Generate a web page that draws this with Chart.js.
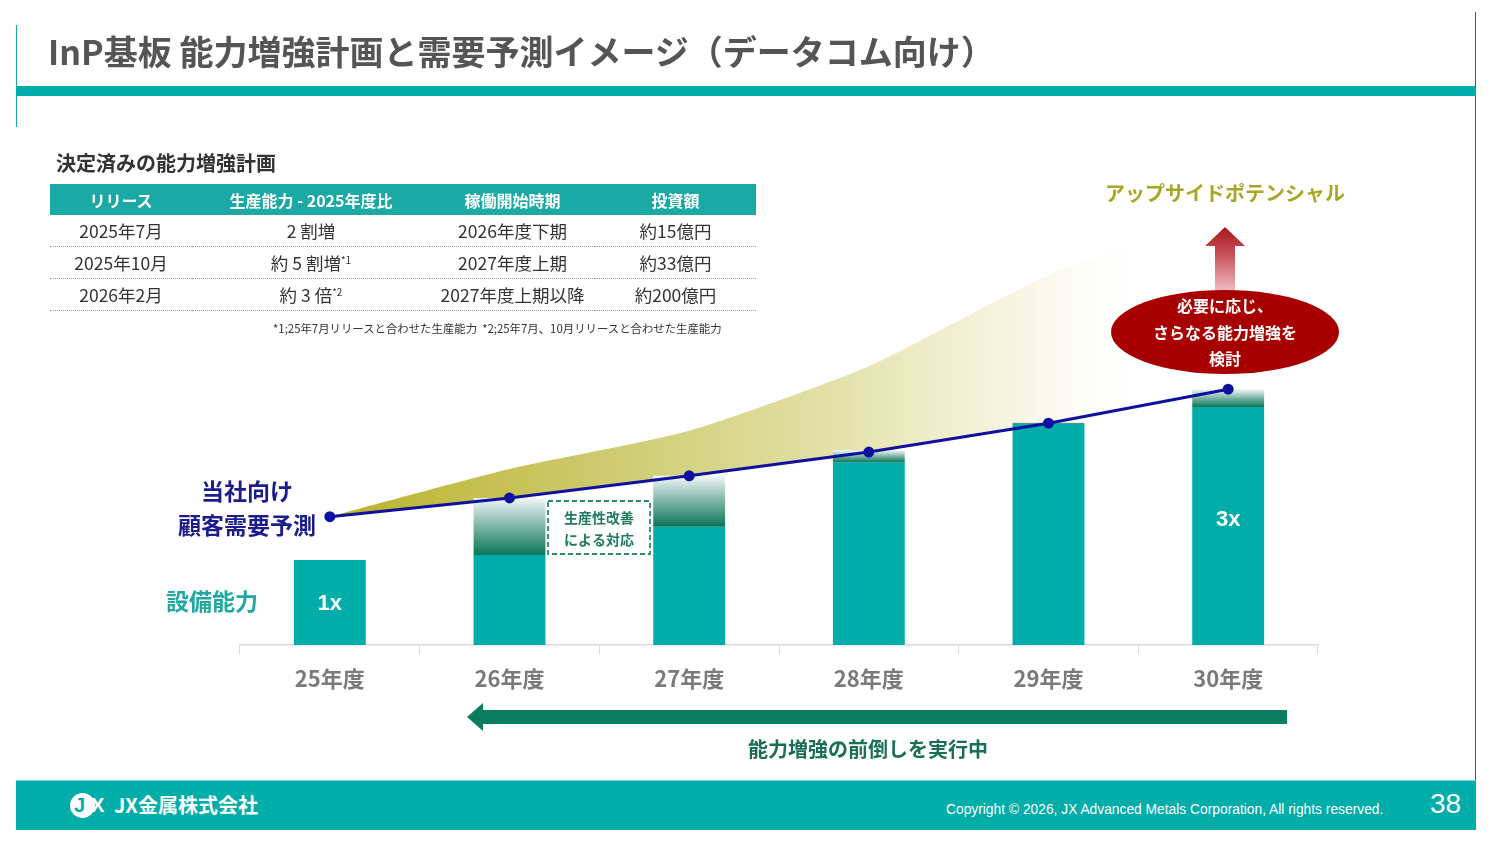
<!DOCTYPE html>
<html lang="ja">
<head>
<meta charset="utf-8">
<title>InP基板 能力増強計画と需要予測イメージ</title>
<script src="https://cdn.jsdelivr.net/npm/chart.js@4.4.1/dist/chart.umd.min.js"></script>
<style>
  html, body { margin: 0; padding: 0; background: #fff; }
  body { font-family: "Noto Sans CJK JP", "Noto Sans", sans-serif; }
  #slide { position: relative; width: 1499px; height: 843px; overflow: hidden; background: #fff; }
  #chart { position: absolute; left: 0; top: 0; }
  .abs { position: absolute; }
  #leftLine { left: 16px; top: 25px; width: 1px; height: 102px; background: #1aa9a4; }
  #rightLine { left: 1475px; top: 12px; width: 1px; height: 770px; background: #555; }
  #title { left: 48px; top: 28px; font-size: 34px; font-weight: 700; color: #555; white-space: nowrap; line-height: 46px; }
  #titleBand { left: 16px; top: 86px; width: 1460px; height: 10px; background: #00ada9; }
  #tableTitle { left: 56px; top: 149px; font-size: 20px; font-weight: 700; color: #333; line-height: 28px; }
  #plan { left: 50px; top: 184px; width: 706px; border-collapse: collapse; }
  #plan th { background: #1aa9a4; color: #fff; font-size: 16px; font-weight: 700; height: 31px; padding: 0; text-align: center; }
  #plan td { font-size: 17.5px; color: #333; height: 31px; padding: 0; text-align: center; border-bottom: 1px dotted #999; }
  #plan sup { font-size: 10px; vertical-align: 6px; }
  #note { left: 273px; top: 320px; font-size: 11.4px; color: #333; white-space: nowrap; }
  #footer { left: 16px; top: 780px; width: 1460px; height: 50px; background: #00ada9; border-top: 1px solid #7fd6d3; box-sizing: border-box; }
  #logoCircle { left: 70px; top: 793px; width: 25px; height: 25px; border-radius: 50%; background: #fff; }
  #logoJ { left: 74px; top: 792px; font: 700 20px "Liberation Sans", sans-serif; color: #00ada9; line-height: 26px; }
  #logoX { left: 91px; top: 792px; font: 700 20px "Liberation Sans", sans-serif; color: #fff; line-height: 26px; }
  #company { left: 114px; top: 792px; font-size: 20px; font-weight: 700; color: #fff; line-height: 26px; white-space: nowrap; }
  #copy { left: 946px; top: 802px; font: 13.8px "Liberation Sans", sans-serif; color: #fff; white-space: nowrap; }
  #page { left: 1430px; top: 788px; font: 28px "Liberation Sans", sans-serif; color: #fff; }
</style>
</head>
<body>
<div id="slide">
  <canvas id="chart" width="1499" height="843"></canvas>
  <div class="abs" id="leftLine"></div>
  <div class="abs" id="rightLine"></div>
  <div class="abs" id="title">InP基板 能力増強計画と需要予測イメージ（データコム向け）</div>
  <div class="abs" id="titleBand"></div>
  <div class="abs" id="tableTitle">決定済みの能力増強計画</div>
  <table class="abs" id="plan">
    <colgroup><col style="width:142px"><col style="width:238px"><col style="width:165px"><col style="width:161px"></colgroup>
    <thead><tr><th>リリース</th><th>生産能力 - 2025年度比</th><th>稼働開始時期</th><th>投資額</th></tr></thead>
    <tbody>
      <tr><td>2025年7月</td><td>2 割増</td><td>2026年度下期</td><td>約15億円</td></tr>
      <tr><td>2025年10月</td><td>約 5 割増<sup>*1</sup></td><td>2027年度上期</td><td>約33億円</td></tr>
      <tr><td>2026年2月</td><td>約 3 倍<sup>*2</sup></td><td>2027年度上期以降</td><td>約200億円</td></tr>
    </tbody>
  </table>
  <div class="abs" id="note">*1;25年7月リリースと合わせた生産能力&nbsp;&nbsp;*2;25年7月、10月リリースと合わせた生産能力</div>
  <div class="abs" id="footer"></div>
  <div class="abs" id="logoCircle"></div>
  <div class="abs" id="logoJ">J</div>
  <div class="abs" id="logoX">X</div>
  <div class="abs" id="company">JX金属株式会社</div>
  <div class="abs" id="copy">Copyright © 2026, JX Advanced Metals Corporation, All rights reserved.</div>
  <div class="abs" id="page">38</div>
</div>
<script>
// 年度ラベル
const years = ['25年度', '26年度', '27年度', '28年度', '29年度', '30年度'];
// 設備能力（25年度=1x）
const capacity = [1.0, 1.06, 1.39, 2.15, 2.6, 2.8];
// 生産性改善による対応（上端）
const improvedTop = [null, 1.73, 1.99, 2.29, 2.62, 3.01];
// 当社向け顧客需要予測
const demand = [1.51, 1.73, 1.99, 2.27, 2.61, 3.01];
// アップサイドポテンシャル（上端）
const upside = [1.51, 2.07, 2.52, 3.28, 4.35, 5.1];

const JP = '"Noto Sans CJK JP", "Noto Sans", sans-serif';
const TEAL = '#00ada8';

const improvement = improvedTop.map((v, i) => v === null ? null : [capacity[i], v]);

// 改善分の縦グラデーション
function capGradient(ctx) {
    const chart = ctx.chart;
    const raw = ctx.raw;
    if (!chart.chartArea || !raw) return '#0d7a58';
    const y = chart.scales.y;
    const top = y.getPixelForValue(raw[1]);
    const bot = y.getPixelForValue(raw[0]);
    const g = chart.ctx.createLinearGradient(0, top, 0, bot);
    g.addColorStop(0, '#f2f8f7');
    g.addColorStop(0.45, '#86bbad');
    g.addColorStop(1, '#0b7656');
    return g;
}

// アップサイド領域の横グラデーション
function upsideGradient(ctx) {
    const chart = ctx.chart;
    if (!chart.chartArea) return 'rgba(200,196,90,0.8)';
    const x = chart.scales.x;
    const g = chart.ctx.createLinearGradient(x.getPixelForValue(0), 0, x.getPixelForValue(4.6), 0);
    g.addColorStop(0, 'rgb(184,180,40)');
    g.addColorStop(0.3, 'rgb(204,200,105)');
    g.addColorStop(0.62, 'rgb(228,226,170)');
    g.addColorStop(0.85, 'rgba(246,245,225,0.8)');
    g.addColorStop(1, 'rgba(255,255,255,0)');
    return g;
}

// 注記類の描画
const notes = {
    id: 'notes',
    afterDatasetsDraw(chart) {
        const c = chart.ctx;
        const x = chart.scales.x;
        const y = chart.scales.y;
        c.save();
        c.textAlign = 'center';
        c.textBaseline = 'middle';

        // 左側ラベル
        c.fillStyle = '#1c1c8c';
        c.font = `700 23px ${JP}`;
        c.fillText('当社向け', 247, 491);
        c.fillText('顧客需要予測', 247, 525);
        c.fillStyle = '#22a8a3';
        c.fillText('設備能力', 212, 601);

        // 棒の中の倍率
        c.fillStyle = '#fff';
        c.font = '700 22px "Liberation Sans", sans-serif';
        c.fillText('1x', x.getPixelForValue(0), y.getPixelForValue(capacity[0] / 2) + 1);
        c.fillText('3x', x.getPixelForValue(5), y.getPixelForValue(capacity[5] / 2) - 6);

        // 生産性改善 点線枠
        c.strokeStyle = '#2c8c72';
        c.lineWidth = 1.8;
        c.setLineDash([5, 3]);
        c.strokeRect(548, 501, 102, 53);
        c.setLineDash([]);
        c.fillStyle = '#1f7a60';
        c.font = `700 14px ${JP}`;
        c.fillText('生産性改善', 599, 518);
        c.fillText('による対応', 599, 540);

        // アップサイドポテンシャル
        c.fillStyle = '#a9a623';
        c.font = `700 20px ${JP}`;
        c.fillText('アップサイドポテンシャル', 1225, 193);

        // 赤い上向き矢印
        const ax = 1225;
        const ag = c.createLinearGradient(0, 227, 0, 295);
        ag.addColorStop(0, '#a81818');
        ag.addColorStop(0.4, '#c8505a');
        ag.addColorStop(1, '#f4c8cc');
        c.fillStyle = ag;
        c.beginPath();
        c.moveTo(ax, 227);
        c.lineTo(ax + 20, 246);
        c.lineTo(ax + 10, 246);
        c.lineTo(ax + 10, 295);
        c.lineTo(ax - 10, 295);
        c.lineTo(ax - 10, 246);
        c.lineTo(ax - 20, 246);
        c.closePath();
        c.fill();

        // 赤い楕円
        c.fillStyle = '#a80000';
        c.beginPath();
        c.ellipse(1225, 332, 114, 42, 0, 0, Math.PI * 2);
        c.fill();
        c.fillStyle = '#fff';
        c.font = `700 16px ${JP}`;
        c.fillText('必要に応じ、', 1225, 306);
        c.fillText('さらなる能力増強を', 1225, 333);
        c.fillText('検討', 1225, 359);

        // 下の左向き矢印
        c.fillStyle = '#0b7d5f';
        c.fillRect(481, 710, 806, 14);
        c.beginPath();
        c.moveTo(467, 717);
        c.lineTo(483, 703);
        c.lineTo(483, 731);
        c.closePath();
        c.fill();
        c.fillStyle = '#1a6e55';
        c.font = `700 20px ${JP}`;
        c.fillText('能力増強の前倒しを実行中', 868, 749);
        c.restore();
    }
};

new Chart(document.getElementById('chart'), {
    data: {
        labels: years,
        datasets: [
            {
                type: 'line',
                label: '当社向け顧客需要予測',
                data: demand,
                borderColor: '#1010a0',
                backgroundColor: '#1010a0',
                borderWidth: 3,
                pointRadius: 4,
                pointBackgroundColor: '#1010a0',
                tension: 0,
                order: 0
            },
            {
                type: 'bar',
                label: '生産性改善による対応',
                data: improvement,
                backgroundColor: capGradient,
                grouped: false,
                categoryPercentage: 1,
                barPercentage: 0.4,
                order: 1
            },
            {
                type: 'bar',
                label: '設備能力',
                data: capacity,
                backgroundColor: TEAL,
                grouped: false,
                categoryPercentage: 1,
                barPercentage: 0.4,
                order: 2
            },
            {
                type: 'line',
                label: 'アップサイドポテンシャル',
                data: upside,
                borderWidth: 0,
                borderColor: 'rgba(0,0,0,0)',
                pointRadius: 0,
                tension: 0.2,
                fill: { target: 0 },
                backgroundColor: upsideGradient,
                order: 3
            }
        ]
    },
    options: {
        responsive: false,
        animation: false,
        layout: { padding: { left: 240, right: 181, top: 160, bottom: 0 } },
        plugins: { legend: { display: false }, tooltip: { enabled: false } },
        scales: {
            x: {
                offset: true,
                grid: { offset: true, drawOnChartArea: false, drawTicks: true, tickLength: 9, color: '#dcdcdc' },
                border: { display: true, color: '#dcdcdc', width: 1.5 },
                ticks: { color: '#7a7a7a', font: { family: JP, size: 22, weight: '700' }, padding: 11 },
                afterFit: (scale) => { scale.height = 198; }
            },
            y: {
                display: false,
                min: 0,
                max: 5.706
            }
        }
    },
    plugins: [notes]
});
</script>
</body>
</html>
